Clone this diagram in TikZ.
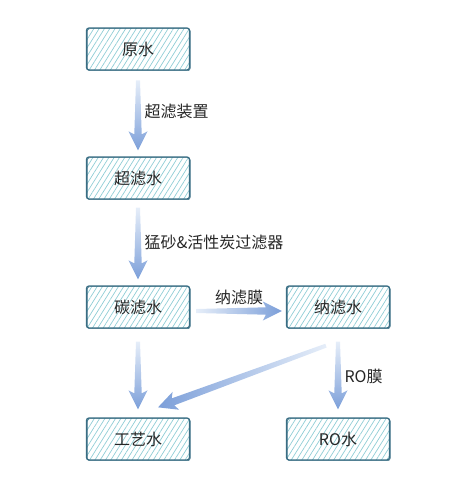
\documentclass[tikz,border=0pt]{standalone}
\usepackage{fontspec}
\setmainfont{Noto Sans CJK SC}
\usepackage{tikz}
\usetikzlibrary{calc,patterns.meta}

\definecolor{boxline}{HTML}{3A6E84}
\definecolor{hatch}{HTML}{8FCDD5}
\definecolor{flowblue}{HTML}{7C9FD9}
\definecolor{flowlight}{HTML}{E6EEF9}
\definecolor{ink}{HTML}{262626}

% shaded fat arrow from #1 to #2, #3 = shading, #4 = label
\newcommand\flowarrow[4]{%
  \coordinate (h) at ($(#2)!16pt!(#1)$);
  \coordinate (w) at ($(#2)!19pt!(#1)$);
  \shade[#3] ($(#1)!2pt!90:(#2)$) -- ($(h)!3.7pt!90:(#2)$) -- ($(w)!9.5pt!90:(#2)$)
    -- (#2) -- ($(w)!9.5pt!-90:(#2)$) -- ($(h)!3.7pt!-90:(#2)$) -- ($(#1)!2pt!-90:(#2)$) -- cycle;
  \path (#1) -- (#2) #4;
}

\begin{document}
\begin{tikzpicture}[node distance=129pt,font=\fontsize{16}{19}\selectfont,text=ink,
                    down/.style={top color=flowlight,bottom color=flowblue},
                    across/.style={left color=flowlight,right color=flowblue}]
  \tikzstyle{box}=[draw=boxline,line width=1.3pt,rounded corners=2.5pt,
                   minimum width=103pt,minimum height=42pt,inner sep=0pt,
                   pattern={Lines[angle=58,distance=4.5pt,line width=.7pt]},pattern color=hatch,
                   postaction={draw=boxline,line width=.5pt,transform canvas={shift={(.8pt,-.7pt)}}}]

  \useasboundingbox (0,0) rectangle (455pt,-493pt);

  \node[box] (A) at (138pt,-49pt) {原水};
  \node[box] (B) [below of=A] {超滤水};
  \node[box] (C) [below of=B] {碳滤水};
  \node[box] (D) [right of=C,node distance=200pt] {纳滤水};
  \node[box] (E) [below of=C,node distance=132pt] {工艺水};
  \node[box] (F) [below of=D,node distance=132pt] {RO水};

  \flowarrow{$(A.south)+(0,-10pt)$}{$(B.north)+(0,6pt)$}{down}{node[right=3pt,pos=.45] {超滤装置}}
  \flowarrow{$(B.south)+(0,-8pt)$}{$(C.north)+(0,6pt)$}{down}{node[right=3pt,pos=.48] {猛砂\&活性炭过滤器}}
  \flowarrow{$(C.east)+(6pt,-4pt)$}{$(D.west)+(-4pt,-4pt)$}{across}{node[above=3pt,midway] {纳滤膜}}
  \flowarrow{$(C.south)+(0,-13pt)$}{$(E.north)+(0,8pt)$}{down}{}
  \flowarrow{$(D.south)+(-12pt,-17pt)$}{$(E.north)+(20pt,10pt)$}{left color=flowblue,right color=flowlight}{}
  \flowarrow{$(D.south)+(0,-13pt)$}{$(F.north)+(0,8pt)$}{down}{node[right=3pt,pos=.52] {RO膜}}
\end{tikzpicture}
\end{document}
